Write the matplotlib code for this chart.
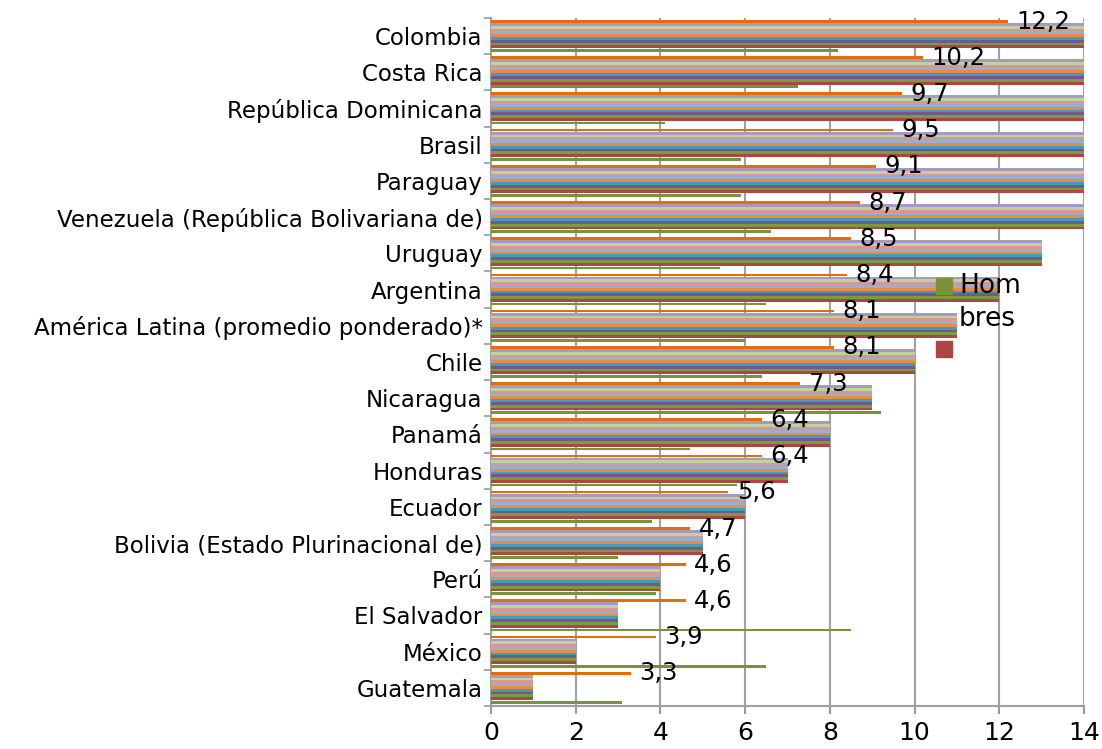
import numpy as np
import matplotlib
matplotlib.use("Agg")
import matplotlib.pyplot as plt
from matplotlib.patches import Rectangle

# ── Data ──────────────────────────────────────────────────────────────────────
countries = [
    "Colombia", "Costa Rica", "República Dominicana", "Brasil", "Paraguay",
    "Venezuela (República Bolivariana de)", "Uruguay", "Argentina",
    "América Latina (promedio ponderado)*", "Chile", "Nicaragua", "Panamá",
    "Honduras", "Ecuador", "Bolivia (Estado Plurinacional de)", "Perú",
    "El Salvador", "México", "Guatemala",
]
mujeres = [12.2, 10.2, 9.7, 9.5, 9.1, 8.7, 8.5, 8.4, 8.1, 8.1,
           7.3, 6.4, 6.4, 5.6, 4.7, 4.6, 4.6, 3.9, 3.3]
hombres = [8.2, 7.25, 4.1, 5.9, 5.9, 6.6, 5.4, 6.5, 6.0, 6.4,
           9.2, 4.7, 5.8, 3.8, 3.0, 3.9, 8.5, 6.5, 3.1]
# the broken series in the original sheet: row numbers used as values
row_index = [19, 18, 17, 16, 15, 14, 13, 12, 11, 10,
             9, 8, 7, 6, 5, 4, 3, 2, 1]

index_colors = ["#A899C2", "#BDD29C", "#D59896", "#97AED6", "#EC8B3C",
                "#3F9CBA", "#72588F", "#7D9B3C", "#AC4643"]
c_mujeres = "#E46C0A"
c_hombres = "#77933C"

# ── Figure ────────────────────────────────────────────────────────────────────
fig = plt.figure(figsize=(11.02, 7.49), dpi=100)
ax = fig.add_axes([491 / 1102, 1 - 706 / 749, 593 / 1102, 688 / 749])

y = np.arange(len(countries))
px = 1 / 36.2          # one pixel in category units
h = 2.85 * px

ax.barh(y - 14.7 * px, mujeres, height=2.7 * px, color=c_mujeres, zorder=3)
for k, col in enumerate(index_colors):
    ax.barh(y + (-11.6 + 2.8 * k) * px, row_index, height=h, color=col, zorder=3)
ax.barh(y + 14.5 * px, hombres, height=2.7 * px, color=c_hombres, zorder=3)

for yi, v in zip(y, mujeres):
    ax.text(v + 0.2, yi - 14.5 * px, f"{v:.1f}".replace(".", ","),
            ha="left", va="center", fontsize=17.5, zorder=5)

ax.set_xlim(0, 14)
ax.set_ylim(len(countries) - 0.5, -0.5)
ax.set_xticks(np.arange(0, 15, 2))
ax.set_yticks(y)
ax.set_yticklabels(countries, fontsize=16.5)
ax.set_yticks(np.arange(-0.5, len(countries), 1), minor=True)
ax.tick_params(axis="y", which="major", length=0, pad=6)
ax.tick_params(axis="y", which="minor", length=5, color="#999999", width=1.2)
ax.tick_params(axis="x", labelsize=18, length=6, color="#999999", width=1.5, pad=5)

ax.grid(axis="x", color="#A0A0A0", linewidth=1.5, zorder=0)
ax.set_axisbelow(True)
for s in ["top", "right"]:
    ax.spines[s].set_visible(False)
for s in ["left", "bottom"]:
    ax.spines[s].set_color("#A0A0A0")
    ax.spines[s].set_linewidth(1.5)

# legend as drawn in the original (clipped, wrapped text)
fig.patches.append(Rectangle((936 / 1102, 1 - 294 / 749), 16 / 1102, 16 / 749,
                             transform=fig.transFigure, color=c_hombres, zorder=6))
fig.patches.append(Rectangle((936 / 1102, 1 - 357 / 749), 16 / 1102, 16 / 749,
                             transform=fig.transFigure, color="#AC4643", zorder=6))
fig.text(959 / 1102, 1 - 286 / 749, "Hom", fontsize=19, va="center", ha="left", zorder=7)
fig.text(959 / 1102, 1 - 319 / 749, "bres", fontsize=19, va="center", ha="left", zorder=7)

fig.savefig("out.png", dpi=100)
